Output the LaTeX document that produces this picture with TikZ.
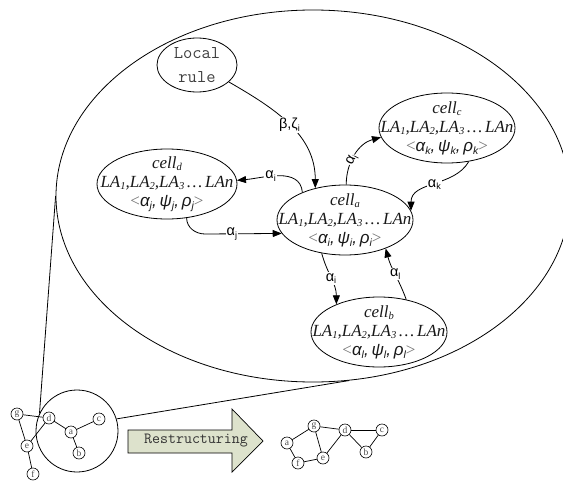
\documentclass[tikz,border=0pt]{standalone}
\usepackage{fontspec}
\setmainfont{Liberation Serif}
\newfontfamily\gsans{Liberation Sans}
\usetikzlibrary{shapes.geometric,arrows.meta}
\newcommand\lsub[1]{\raisebox{-0.35ex}{\scalebox{0.62}{#1}}}
\newcommand\celltxt[2]{\textit{cell}\lsub{\itshape #1}\\
  \textit{LA\lsub{1},LA\lsub{2},LA\lsub{3}\,\ldots\,LAn}\\
  {\color{black!55}\textless}{\gsans\itshape α\lsub{#2},\,ψ\lsub{#2},\,ρ\lsub{#2}}{\color{black!55}\textgreater}}
\begin{document}
\begin{tikzpicture}[x=1pt,y=-1pt,
  ln/.style={line width=0.8pt},
  cellnode/.style={ellipse, draw, line width=0.8pt, minimum width=136pt, minimum height=70pt, inner sep=0pt},
  celltext/.style={align=center, font=\fontsize{17}{19}\selectfont, text=black!90, inner sep=1pt},
  lbl/.style={font=\gsans\fontsize{14.5}{14.5}\selectfont, fill=white, inner sep=1pt},
  arr/.style={line width=0.8pt, -{Triangle[length=9pt,width=7pt]}},
  gn/.style={circle, draw, line width=0.6pt, minimum size=12pt, inner sep=0pt, font=\fontsize{9.5}{9.5}\selectfont, text=black!70},
  ge/.style={line width=0.7pt}
]
\clip (0,0) rectangle (563,482);

% big zoom ellipse
\node[ellipse, draw, ln, minimum width=514pt, minimum height=372pt, inner sep=0pt] (big) at (313,196) {};

% local rule
\node[ellipse, draw, ln, minimum width=80pt, minimum height=54pt, inner sep=0pt] (lr) at (197,65) {};
\node[align=center, font=\ttfamily\fontsize{18}{24}\selectfont, text=black!75] (lrt) at (lr) {Local\\rule};

% cells
\node[cellnode] (ca) at (345,220) {};
\node[celltext] (cat) at (ca) {\celltxt{a}{i}};
\node[cellnode] (cc) at (447,128) {};
\node[celltext] (cct) at (cc) {\celltxt{c}{k}};
\node[cellnode, minimum width=140pt] (cd) at (167,184) {};
\node[celltext] (cdt) at (cd) {\celltxt{d}{j}};
\node[cellnode] (cb) at (379,332) {};
\node[celltext] (cbt) at (cb) {\celltxt{b}{l}};

% connectors
\draw[arr] (lr.-28) to[out=-30,in=90] node[lbl,pos=0.5] {β,ζ\lsub{i}} (ca.133);
\draw[arr] (ca.147) to[out=95,in=5] node[lbl,pos=0.6] {α\lsub{i}} (cd.3);
\draw[arr] (cd.-60) to[out=-90,in=180] (205,234) -- node[lbl,pos=0.35] {α\lsub{j}} (ca.192);
\draw[arr] (ca.88) to[out=90,in=195] node[lbl,sloped,pos=0.4,inner sep=0.5pt] {α\lsub{i}} (cc.188);
\draw[arr] (cc.-57) to[out=-120,in=90] node[lbl,pos=0.5] {α\lsub{k}} (ca.8);
\draw[arr] (ca.-125) to[out=-75,in=90] node[lbl,pos=0.5] {α\lsub{i}} (cb.147);
\draw[arr] (cb.50) to[out=110,in=-75] node[lbl,pos=0.5] {α\lsub{l}} (ca.-35);

% small circle and zoom lines
\node[circle, draw, ln, minimum size=82pt, inner sep=0pt] (zc) at (77,431) {};
\draw[ln] (big.west) -- (zc.155);
\draw[ln] (zc.17) -- (big.-79);

% left graph
\node[gn] (lg) at (17,414) {g};
\node[gn] (ld) at (49,418) {d};
\node[gn] (lc) at (99,419) {c};
\node[gn] (la) at (71,432) {a};
\node[gn] (lb) at (79,453) {b};
\node[gn] (le) at (27,446) {e};
\node[gn] (lf) at (33,474) {f};
\draw[ge] (lg) -- (ld);
\draw[ge] (lg) -- (le);
\draw[ge] (le) -- (ld);
\draw[ge] (ld) -- (la);
\draw[ge] (la) -- (lc);
\draw[ge] (la) -- (lb);
\draw[ge] (le) -- (lf);

% restructuring arrow
\draw[line width=0.7pt, fill={rgb,255:red,221;green,226;blue,204}]
  (128,430) -- (232,430) -- (232,409) -- (263,441) -- (232,472) -- (232,453) -- (128,453) -- cycle;
\node[font=\ttfamily\fontsize{15.5}{16}\selectfont, text=black!80] (rs) at (196,441) {Restructuring};

% right graph
\node[gn] (ra) at (287,443) {a};
\node[gn] (rg) at (314,426) {g};
\node[gn] (rd) at (345,430) {d};
\node[gn] (rc) at (382,430) {c};
\node[gn] (rb) at (366,452) {b};
\node[gn] (re) at (323,458) {e};
\node[gn] (rf) at (298,463) {f};
\draw[ge] (ra) -- (rg);
\draw[ge] (ra) -- (rf);
\draw[ge] (rf) -- (re);
\draw[ge] (rg) -- (re);
\draw[ge] (rg) -- (rd);
\draw[ge] (rd) -- (re);
\draw[ge] (rd) -- (rc);
\draw[ge] (rd) -- (rb);
\draw[ge] (rc) -- (rb);
\end{tikzpicture}
\end{document}
